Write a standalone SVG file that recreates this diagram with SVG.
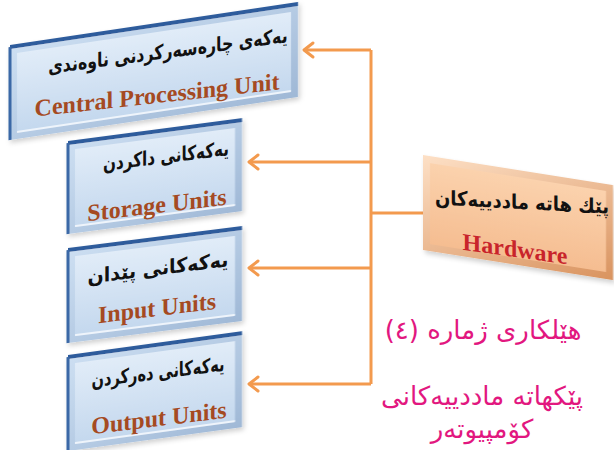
<svg xmlns="http://www.w3.org/2000/svg" width="614" height="450" viewBox="0 0 614 450">
  <style>
    .ku { font-family: "DejaVu Sans", "Noto Sans", sans-serif; font-weight: bold; font-size: 20px; fill: #111; text-anchor: middle; }
    .en { font-family: "Liberation Serif", "Times New Roman", serif; font-weight: bold; font-size: 24px; fill: #a54a22; text-anchor: middle; }
    .hw { fill: #c8242b; }
    .cap { font-family: "DejaVu Sans", "Noto Sans", sans-serif; font-size: 26px; fill: #e2177f; text-anchor: middle; }
    .wire { fill: none; stroke: #f39a4e; stroke-width: 3; }
    .face { fill: url(#faceBlue); }
    .edgeTop { stroke: #2e5c9c; stroke-width: 4; }
    .edgeLeft { stroke: #3a68a6; stroke-width: 3; }
    .edgeLight { stroke: #eef4fb; stroke-width: 2; }
  </style>
  <defs>
    <linearGradient id="faceBlue" x1="0" y1="0" x2="0" y2="1">
      <stop offset="0" stop-color="#e1ecf8"/>
      <stop offset="1" stop-color="#c4d8ee"/>
    </linearGradient>
    <linearGradient id="bevelBlue" x1="0" y1="0" x2="1" y2="1">
      <stop offset="0" stop-color="#cddff2"/>
      <stop offset="1" stop-color="#9fb8d6"/>
    </linearGradient>
    <linearGradient id="facePeach" x1="0" y1="0" x2="0" y2="1">
      <stop offset="0" stop-color="#fbd2ad"/>
      <stop offset="1" stop-color="#f5bd91"/>
    </linearGradient>
    <linearGradient id="bevelPeach" x1="0" y1="0" x2="1" y2="1">
      <stop offset="0" stop-color="#fde0c6"/>
      <stop offset="1" stop-color="#d9935f"/>
    </linearGradient>
    <filter id="soft" x="-10%" y="-10%" width="120%" height="130%">
      <feDropShadow dx="2" dy="3" stdDeviation="2.5" flood-color="#000" flood-opacity="0.18"/>
    </filter>
    <marker id="head" markerUnits="userSpaceOnUse" markerWidth="20" markerHeight="20" viewBox="-12 -10 14 20" refX="0" refY="0" orient="auto">
      <path d="M-9,-7 L0,0 L-9,7" fill="none" stroke="#f39a4e" stroke-width="3" stroke-linecap="round" stroke-linejoin="round"/>
    </marker>
  </defs>

  <rect width="614" height="450" fill="#ffffff"/>

  <!-- connectors -->
  <g id="connectors">
    <path class="wire" d="M371,50 V384"/>
    <path class="wire" d="M371,213 H425"/>
    <path class="wire" d="M371,50 H304" marker-end="url(#head)"/>
    <path class="wire" d="M371,162 H249" marker-end="url(#head)"/>
    <path class="wire" d="M371,268 H249" marker-end="url(#head)"/>
    <path class="wire" d="M371,384 H249" marker-end="url(#head)"/>
  </g>

  <!-- central processing unit -->
  <g id="node-cpu">
    <g transform="translate(10,47) skewY(-8.5)" filter="url(#soft)">
      <rect width="288" height="93" fill="url(#bevelBlue)"/>
      <rect x="7" y="7" width="274" height="79" class="face"/>
      <line x1="7" y1="86" x2="281" y2="86" class="edgeLight"/>
      <line x1="0" y1="0" x2="288" y2="0" class="edgeTop"/>
      <line x1="0" y1="0" x2="0" y2="93" class="edgeLeft"/>
    </g>
    <text class="ku" transform="translate(168,58) skewY(-7.5) scale(0.79,1)">یەکەی چارەسەرکردنی ناوەندی</text>
    <text class="en" transform="translate(157,103) skewY(-6.3)">Central Processing Unit</text>
  </g>

  <!-- storage units -->
  <g id="node-storage">
    <g transform="translate(68,143) skewY(-7.5)" filter="url(#soft)">
      <rect width="174" height="91" fill="url(#bevelBlue)"/>
      <rect x="7" y="7" width="160" height="77" class="face"/>
      <line x1="7" y1="84" x2="167" y2="84" class="edgeLight"/>
      <line x1="0" y1="0" x2="174" y2="0" class="edgeTop"/>
      <line x1="0" y1="0" x2="0" y2="91" class="edgeLeft"/>
    </g>
    <text class="ku" transform="translate(166,163) skewY(-7) scale(0.76,1)">یەکەکانی داکردن</text>
    <text class="en" transform="translate(157,213) skewY(-6.8)">Storage Units</text>
  </g>

  <!-- input units -->
  <g id="node-input">
    <g transform="translate(68,250) skewY(-7.2)" filter="url(#soft)">
      <rect width="174" height="93" fill="url(#bevelBlue)"/>
      <rect x="7" y="7" width="160" height="79" class="face"/>
      <line x1="7" y1="86" x2="167" y2="86" class="edgeLight"/>
      <line x1="0" y1="0" x2="174" y2="0" class="edgeTop"/>
      <line x1="0" y1="0" x2="0" y2="93" class="edgeLeft"/>
    </g>
    <text class="ku" transform="translate(158,275) skewY(-7) scale(0.95,1)">یەکەکانی پێدان</text>
    <text class="en" transform="translate(157,316) skewY(-7)">Input Units</text>
  </g>

  <!-- output units -->
  <g id="node-output">
    <g transform="translate(68,357) skewY(-7.8)" filter="url(#soft)">
      <rect width="174" height="94" fill="url(#bevelBlue)"/>
      <rect x="7" y="7" width="160" height="80" class="face"/>
      <line x1="7" y1="87" x2="167" y2="87" class="edgeLight"/>
      <line x1="0" y1="0" x2="174" y2="0" class="edgeTop"/>
      <line x1="0" y1="0" x2="0" y2="94" class="edgeLeft"/>
    </g>
    <text class="ku" transform="translate(158,379) skewY(-7) scale(0.73,1)">یەکەکانی دەرکردن</text>
    <text class="en" transform="translate(159,426) skewY(-7)">Output Units</text>
  </g>

  <!-- hardware -->
  <g id="node-hardware">
    <g transform="translate(423,155) skewY(9)" filter="url(#soft)">
      <rect width="190" height="95" fill="url(#bevelPeach)"/>
      <rect x="7" y="7" width="176" height="81" fill="url(#facePeach)"/>
    </g>
    <text class="ku" transform="translate(522,209) skewY(3) scale(0.9,1)">پێك هاتە ماددییەکان</text>
    <text class="en hw" transform="translate(515,257) skewY(8)">Hardware</text>
  </g>

  <!-- caption -->
  <g id="caption">
    <text class="cap" x="483" y="339">هێلکاری ژمارە (٤)</text>
    <text class="cap" x="482" y="405">پێکهاتە ماددییەکانی</text>
    <text class="cap" x="482" y="438">کۆمپیوتەر</text>
  </g>
</svg>
